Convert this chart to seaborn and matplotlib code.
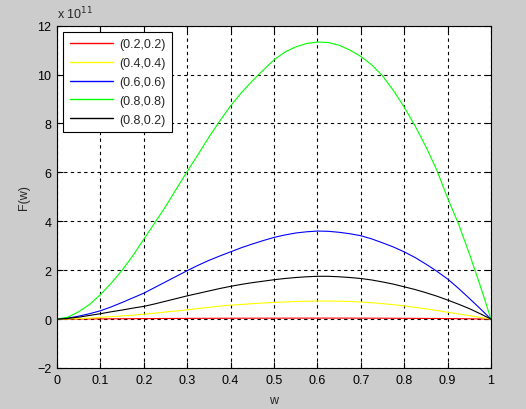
import pandas as pd
import matplotlib
matplotlib.use('Agg')
import matplotlib.pyplot as plt
import seaborn as sns

w = [i * 0.025 for i in range(41)]
f_02_02 = [0, .002, .005, .007, .01, .012, .015, .017, .02, .022,
           .025, .027, .03, .031, .032, .034, .035, .036, .037, .037,
           .038, .038, .039, .039, .04, .04, .039, .039, .038, .037,
           .036, .034, .032, .03, .028, .025, .022, .018, .013, .007, 0]
f_04_04 = [0, .01, .02, .04, .07, .10, .13, .16, .20, .24,
           .29, .33, .38, .43, .48, .53, .57, .60, .63, .66,
           .68, .70, .72, .73, .74, .74, .73, .72, .70, .67,
           .63, .59, .54, .48, .42, .35, .28, .21, .14, .07, 0]
f_06_06 = [0, .04, .12, .22, .34, .50, .68, .87, 1.06, 1.29,
           1.52, 1.75, 1.98, 2.20, 2.40, 2.58, 2.75, 2.92, 3.07, 3.21,
           3.34, 3.44, 3.52, 3.57, 3.60, 3.59, 3.55, 3.49, 3.41, 3.28,
           3.12, 2.95, 2.75, 2.52, 2.25, 1.96, 1.64, 1.26, .85, .43, 0]
f_08_08 = [0, .08, .30, .60, 1.00, 1.47, 2.00, 2.60, 3.27, 3.93,
           4.60, 5.32, 6.04, 6.73, 7.44, 8.10, 8.72, 9.26, 9.74, 10.18,
           10.6, 10.92, 11.13, 11.27, 11.33, 11.31, 11.20, 11.0, 10.74, 10.4,
           9.95, 9.35, 8.67, 7.90, 7.05, 6.10, 4.95, 3.90, 2.68, 1.38, 0]
f_08_02 = [0, .03, .08, .15, .22, .30, .37, .45, .52, .62,
           .73, .84, .95, 1.05, 1.15, 1.25, 1.34, 1.42, 1.49, 1.55,
           1.61, 1.66, 1.70, 1.73, 1.75, 1.75, 1.73, 1.70, 1.66, 1.60,
           1.52, 1.43, 1.32, 1.21, 1.08, .94, .78, .61, .43, .22, 0]

labels = ['(0.2,0.2)', '(0.4,0.4)', '(0.6,0.6)', '(0.8,0.8)', '(0.8,0.2)']
colors = ['#ff0000', '#ffff00', '#0000ff', '#00ff00', '#000000']
series = [f_02_02, f_04_04, f_06_06, f_08_08, f_08_02]

df = pd.concat([pd.DataFrame({'w': w, 'F': s, 'pair': lab})
                for s, lab in zip(series, labels)], ignore_index=True)

sns.set_style("ticks")
plt.rcParams['font.family'] = ['Liberation Sans', 'DejaVu Sans']
plt.rcParams['font.size'] = 9

fig = plt.figure(figsize=(5.26, 4.10), dpi=100, facecolor='#cccccc')
ax = fig.add_axes([0.1084, 0.1, 0.825, 0.835])
ax.set_facecolor('white')

sns.lineplot(data=df, x='w', y='F', hue='pair', palette=colors,
             hue_order=labels, linewidth=0.8, ax=ax, legend=False)

ax.set_xlim(0, 1)
ax.set_ylim(-2, 12)
ax.set_xticks([i / 10 for i in range(11)])
ax.set_xticklabels(['0', '0.1', '0.2', '0.3', '0.4', '0.5', '0.6', '0.7', '0.8', '0.9', '1'])
ax.set_yticks(range(-2, 13, 2))
ax.grid(True, color='black', linestyle=(0, (3, 3)), linewidth=0.8)
ax.tick_params(direction='in', top=True, right=True, length=4, width=0.8,
               labelsize=9, colors='black', pad=4)
for sp in ax.spines.values():
    sp.set_color('black')
    sp.set_linewidth(0.8)

ax.set_xlabel('w', fontsize=9, labelpad=6)
ax.set_ylabel('F(w)', fontsize=9, labelpad=5)
ax.text(0.0, 1.012, r'x 10$^{11}$', transform=ax.transAxes, fontsize=9,
        ha='left', va='bottom')

handles = [plt.Line2D([], [], color=c, linewidth=1.0) for c in colors]
leg = ax.legend(handles, labels, loc='upper left', fontsize=9, frameon=True,
                fancybox=False, edgecolor='black', framealpha=1,
                handlelength=3.5, handletextpad=0.5, borderaxespad=0.5,
                labelspacing=0.55, borderpad=0.5)
leg.get_frame().set_linewidth(0.8)

fig.savefig('out.png', dpi=100, facecolor=fig.get_facecolor())
